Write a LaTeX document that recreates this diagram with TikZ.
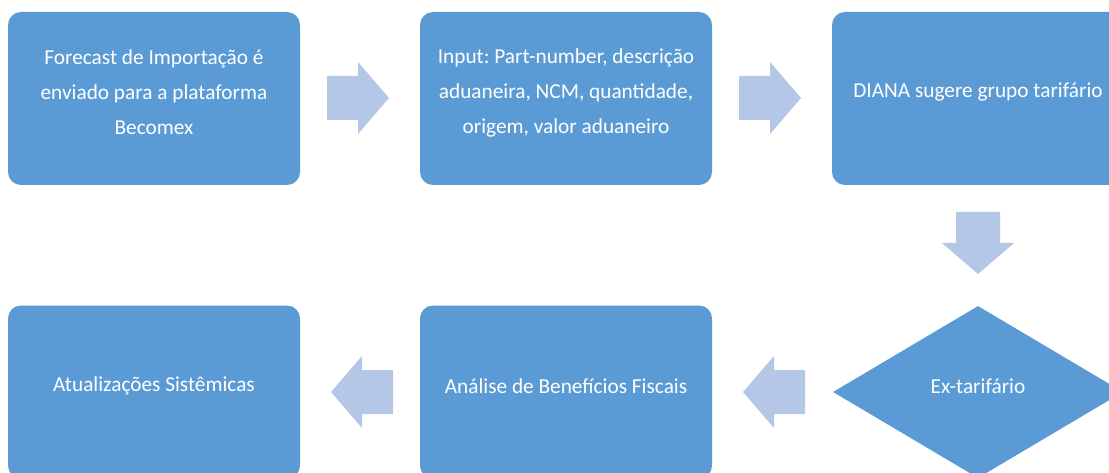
\documentclass[tikz,border=0pt]{standalone}
\usepackage{fontspec}
\setmainfont{Carlito}
\frenchspacing
\usetikzlibrary{shapes.geometric}
\definecolor{boxblue}{HTML}{5B9BD5}
\definecolor{arrowblue}{HTML}{B4C7E7}
\tikzset{
  stepbox/.style={rectangle, rounded corners=13pt, fill=boxblue, draw=none, minimum width=292pt, minimum height=173pt, inner sep=0pt},
  decision/.style={diamond, fill=boxblue, draw=none, minimum width=290pt, minimum height=172pt, inner sep=0pt},
  boxtext/.style={text=white, align=center, font=\fontsize{21.3}{35}\selectfont\frenchspacing, inner sep=0pt},
  blockarrow/.style={fill=arrowblue, draw=none}
}
\begin{document}
\begin{tikzpicture}[x=1pt,y=-1pt]
\clip (0,0) rectangle (1109,473);
\fill[white] (0,0) rectangle (1109,473);
% boxes
\node[stepbox] (b1) at (154,98.5) {};
\node[stepbox] (b2) at (566,98.5) {};
\node[stepbox] (b3) at (978,98.5) {};
\node[decision] (d1) at (978,392) {};
\node[stepbox] (b5) at (566,392) {};
\node[stepbox] (b6) at (154,392) {};
% texts
\node[boxtext] (t1) at ([yshift=6pt]b1.center) {Forecast de Importação é\\enviado para a plataforma\\Becomex};
\node[boxtext] (t2) at ([yshift=6pt]b2.center) {Input: Part-number, descrição\\aduaneira, NCM, quantidade,\\origem, valor aduaneiro};
\node[boxtext] (t3) at ([yshift=6pt]b3.center) {DIANA sugere grupo tarifário};
\node[boxtext] (t4) at ([yshift=6pt]d1.center) {Ex-tarifário};
\node[boxtext] (t5) at ([yshift=6pt]b5.center) {Análise de Benefícios Fiscais};
\node[boxtext] (t6) at ([yshift=6pt]b6.center) {Atualizações Sistêmicas};
% block arrows (right)
\fill[blockarrow] (327,76) -- (358,76) -- (358,62) -- (389,98) -- (358,134) -- (358,120) -- (327,120) -- cycle;
\fill[blockarrow] (739,76) -- (770,76) -- (770,62) -- (801,98) -- (770,134) -- (770,120) -- (739,120) -- cycle;
% down
\fill[blockarrow] (956,212) -- (1000,212) -- (1000,243) -- (1014,243) -- (978,274) -- (942,243) -- (956,243) -- cycle;
% left
\fill[blockarrow] (805,370) -- (774,370) -- (774,356) -- (743,392) -- (774,428) -- (774,414) -- (805,414) -- cycle;
\fill[blockarrow] (393,370) -- (362,370) -- (362,356) -- (331,392) -- (362,428) -- (362,414) -- (393,414) -- cycle;
\end{tikzpicture}
\end{document}
